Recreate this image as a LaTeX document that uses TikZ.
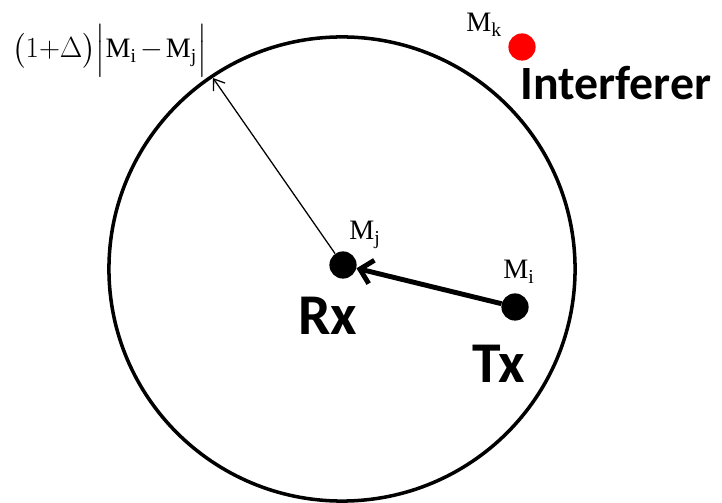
\documentclass[tikz,border=0pt]{standalone}
\usepackage{amsmath}
\usepackage{fontspec}
\setmainfont{Liberation Serif}
\newfontfamily\calfont{Carlito}
\usetikzlibrary{arrows.meta}

\begin{document}
\begin{tikzpicture}[x=0.025cm, y=-0.025cm,
    station/.style={circle, fill=black, inner sep=0pt, minimum size=0.68cm},
    mlabel/.style={inner sep=0pt, anchor=base west, font=\fontsize{20}{24}\selectfont},
    biglabel/.style={inner sep=0pt, anchor=base west, font=\calfont\bfseries\fontsize{41}{48}\selectfont}]
    \useasboundingbox (0,0) rectangle (722,503);

    % coverage region around the receiver
    \draw[line width=2.5pt] (342,269) ellipse [x radius=5.825cm, y radius=5.8cm];
    \coordinate (rim) at (213,78);

    \node[station] (rx) at (343,265) {};
    \node[station] (tx) at (515,307) {};
    \node[station, fill=red] (intf) at (522,47) {};

    \node[mlabel] (mj) at (349,240) {$\mathrm{M}_{\mathrm{j}}$};
    \node[mlabel] (mi) at (503,279) {$\mathrm{M}_{\mathrm{i}}$};
    \node[mlabel] (mk) at (466,32) {$\mathrm{M}_{\mathrm{k}}$};
    \node[mlabel] (radius) at (12,58) {$\bigl(1{+}\Delta\bigr)\Bigl|\mathrm{M}_{\mathrm{i}}\mkern2mu{-}\mkern2mu\mathrm{M}_{\mathrm{j}}\Bigr|$};

    \node[biglabel] (rxname) at (298,335) {Rx};
    \node[biglabel] (txname) at (472,383) {Tx};
    \node[biglabel, font=\calfont\bfseries\fontsize{34}{40}\selectfont] (intfname) at (520,100) {Interferer};

    % links
    \draw[line width=3.5pt, -{Straight Barb[length=0.3cm, width=0.6cm]}] (tx) -- (rx);
    \draw[line width=0.9pt, -{Straight Barb[length=0.25cm, width=0.35cm]}] (rx) -- (rim);
\end{tikzpicture}
\end{document}
